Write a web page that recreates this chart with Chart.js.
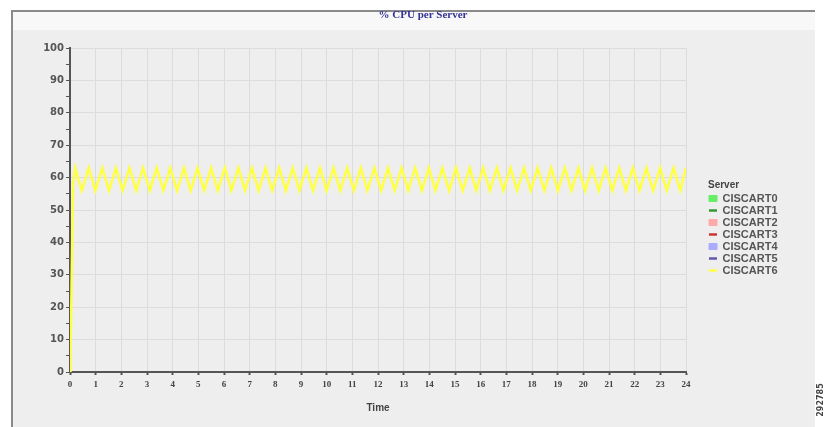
<!DOCTYPE html>
<html>
<head>
<meta charset="utf-8">
<script src="https://cdn.jsdelivr.net/npm/chart.js@4/dist/chart.umd.min.js"></script>
<style>
  html, body { margin: 0; padding: 0; background: #ffffff; }
  #wrap { width: 826px; height: 427px; position: relative; }
</style>
</head>
<body>
<div id="wrap"><canvas id="c" width="826" height="427"></canvas></div>
<script>
// ---- data ----
const chartTitle = '% CPU per Server';
const xAxisTitle = 'Time';
const legendTitle = 'Server';
const serverNames = ['CISCART0', 'CISCART1', 'CISCART2', 'CISCART3', 'CISCART4', 'CISCART5', 'CISCART6'];
const serverColors = ['#66ee66', '#339933', '#ffaaaa', '#cc3333', '#aaaaff', '#6655aa', '#ffff44'];
const serverMarkers = ['rect', 'line', 'rect', 'line', 'rect', 'line', 'line'];

// time (hours) of each sample of CISCART6
const timeArt6 = [
  0, 0.02, 0.12,
  0.20, 0.46, 0.73, 0.99, 1.26, 1.52, 1.79, 2.05, 2.32, 2.58,
  2.85, 3.11, 3.38, 3.64, 3.91, 4.17, 4.44, 4.70, 4.97, 5.23,
  5.50, 5.76, 6.03, 6.29, 6.56, 6.82, 7.09, 7.35, 7.62, 7.88,
  8.15, 8.41, 8.68, 8.94, 9.21, 9.47, 9.74, 10.00, 10.27, 10.53,
  10.80, 11.06, 11.33, 11.59, 11.86, 12.12, 12.39, 12.65, 12.92, 13.18,
  13.45, 13.71, 13.98, 14.24, 14.51, 14.77, 15.04, 15.30, 15.57, 15.83,
  16.10, 16.36, 16.63, 16.89, 17.16, 17.42, 17.69, 17.95, 18.22, 18.48,
  18.75, 19.01, 19.28, 19.54, 19.81, 20.07, 20.34, 20.60, 20.87, 21.13,
  21.40, 21.66, 21.93, 22.19, 22.46, 22.72, 22.99, 23.25, 23.52, 23.78,
  24.00
];
// % CPU of CISCART6
const cpuArt6 = [
  0, 5, 58,
  63, 56, 63, 56, 63, 56, 63, 56, 63, 56,
  63, 56, 63, 56, 63, 56, 63, 56, 63, 56,
  63, 56, 63, 56, 63, 56, 63, 56, 63, 56,
  63, 56, 63, 56, 63, 56, 63, 56, 63, 56,
  63, 56, 63, 56, 63, 56, 63, 56, 63, 56,
  63, 56, 63, 56, 63, 56, 63, 56, 63, 56,
  63, 56, 63, 56, 63, 56, 63, 56, 63, 56,
  63, 56, 63, 56, 63, 56, 63, 56, 63, 56,
  63, 56, 63, 56, 63, 56, 63, 56, 63, 56,
  63
];
// other servers: no visible samples in the reference
const cpuOther = [[], [], [], [], [], []];

const yMin = 0, yMax = 100, yMinorStep = 5, yLabelStep = 10;
const xMin = 0, xMax = 24, xStep = 1;

// ---- build datasets ----
const seriesData = cpuOther.map(a => a.map(p => p)).concat([
  timeArt6.map((t, i) => ({ x: t, y: cpuArt6[i] }))
]);
const datasets = serverNames.map((name, i) => ({
  label: name,
  data: seriesData[i],
  borderColor: serverColors[i],
  backgroundColor: serverColors[i],
  pointStyle: serverMarkers[i],
  borderWidth: serverMarkers[i] === 'line' ? 2.5 : 1,
  pointRadius: 0,
  tension: 0,
  fill: false
}));

const framePlugin = {
  id: 'frame',
  beforeInit(chart) {
    const lg = chart.legend;
    if (lg) {
      const origFit = lg.fit.bind(lg);
      lg.fit = function () { origFit(); if (!this.isHorizontal()) this.width = 140; };
    }
  },
  afterLayout(chart) {
    const lg = chart.legend;
    if (lg) { lg.left += 22; lg.right += 22; lg.top += 180; lg.bottom += 180; }
  },
  beforeDraw(chart) {
    const ctx = chart.ctx;
    ctx.save();
    ctx.fillStyle = '#ffffff';
    ctx.fillRect(0, 0, chart.width, chart.height);
    ctx.fillStyle = '#eeeeee';
    ctx.fillRect(12, 11, 803, 416);
    ctx.fillStyle = '#f8f8f8';
    ctx.fillRect(13, 12, 802, 18);
    ctx.fillStyle = '#8a8a8a';
    ctx.fillRect(11, 10, 804, 2);
    ctx.fillRect(11, 10, 2, 417);
    ctx.restore();
  },
  afterDraw(chart) {
    const ctx = chart.ctx;
    ctx.save();
    ctx.translate(821, 400);
    ctx.rotate(-Math.PI / 2);
    ctx.font = 'bold 8px "DejaVu Sans"';
    ctx.fillStyle = '#444444';
    ctx.textAlign = 'center';
    ctx.textBaseline = 'middle';
    ctx.fillText('292785', 0, 0);
    ctx.restore();
  }
};

new Chart(document.getElementById('c'), {
  type: 'line',
  data: { datasets },
  plugins: [framePlugin],
  options: {
    responsive: false,
    animation: false,
    layout: { padding: { left: 20, right: 0, top: 0, bottom: 0 } },
    plugins: {
      title: {
        display: true,
        text: chartTitle,
        color: '#333399',
        font: { family: '"Liberation Serif"', size: 11, weight: 'bold' },
        padding: { top: 9, bottom: 25.8 }
      },
      legend: {
        display: true,
        position: 'right',
        align: 'start',
        title: {
          display: true,
          text: legendTitle,
          position: 'start',
          color: '#444444',
          font: { family: '"Liberation Sans"', size: 10, weight: 'bold' },
          padding: 0
        },
        labels: {
          usePointStyle: true,
          pointStyleWidth: 8,
          boxHeight: 6,
          padding: 1,
          color: '#555555',
          font: { family: '"Liberation Sans"', size: 11, weight: 'bold' }
        }
      },
      tooltip: { enabled: false }
    },
    scales: {
      x: {
        type: 'linear',
        min: xMin, max: xMax,
        border: { color: '#555555', width: 2 },
        grid: { color: '#dcdcdc', lineWidth: 1, tickColor: '#555555', tickLength: 3, tickWidth: 2 },
        ticks: {
          stepSize: xStep,
          color: '#444444',
          padding: 4,
          maxRotation: 0,
          autoSkip: false,
          font: { family: '"Liberation Serif"', size: 9, weight: 'bold' }
        },
        title: {
          display: true,
          text: xAxisTitle,
          color: '#444444',
          font: { family: '"Liberation Sans"', size: 10, weight: 'bold' },
          padding: { top: 0, bottom: 13 }
        },
        afterFit(scale) { scale.height = 55; }
      },
      y: {
        min: yMin, max: yMax,
        border: { color: '#555555', width: 2 },
        grid: {
          color: ctx => (ctx.tick && ctx.tick.value % yLabelStep === 0) ? '#dcdcdc' : 'rgba(0,0,0,0)',
          tickColor: '#555555',
          tickLength: 4,
          lineWidth: 1
        },
        ticks: {
          stepSize: yMinorStep,
          color: '#555555',
          padding: 2,
          autoSkip: false,
          font: { family: '"DejaVu Sans"', size: 10, weight: 'bold' },
          callback: v => (v % yLabelStep === 0 ? String(v) : '')
        },
        afterFit(scale) { scale.width = 50; }
      }
    }
  }
});
</script>
</body>
</html>
